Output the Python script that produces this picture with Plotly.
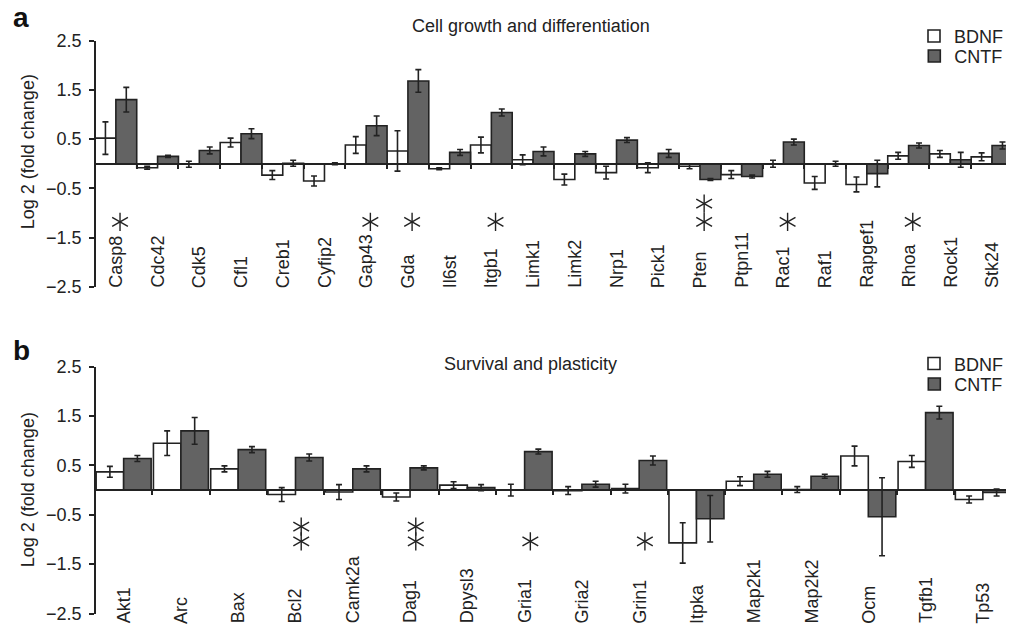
import plotly.graph_objects as go

# ---------------- data ----------------
genes_a = ["Casp8", "Cdc42", "Cdk5", "Cfl1", "Creb1", "Cyfip2", "Gap43", "Gda", "Il6st", "Itgb1",
           "Limk1", "Limk2", "Nrp1", "Pick1", "Pten", "Ptpn11", "Rac1", "Raf1", "Rapgef1", "Rhoa",
           "Rock1", "Stk24"]
bdnf_a = [0.52, -0.08, -0.01, 0.43, -0.23, -0.35, 0.38, 0.26, -0.10, 0.38,
          0.08, -0.32, -0.18, -0.08, -0.05, -0.22, 0.00, -0.39, -0.42, 0.16,
          0.20, 0.14]
bdnf_a_err = [0.33, 0.03, 0.06, 0.09, 0.09, 0.10, 0.17, 0.41, 0.02, 0.16,
              0.10, 0.11, 0.13, 0.10, 0.05, 0.08, 0.07, 0.13, 0.15, 0.07,
              0.07, 0.08]
cntf_a = [1.30, 0.15, 0.27, 0.61, 0.01, 0.00, 0.77, 1.68, 0.23, 1.04,
          0.25, 0.20, 0.48, 0.21, -0.32, -0.26, 0.44, 0.00, -0.20, 0.37,
          0.08, 0.37]
cntf_a_err = [0.25, 0.02, 0.07, 0.10, 0.06, 0.02, 0.20, 0.23, 0.06, 0.07,
              0.09, 0.05, 0.05, 0.08, 0.02, 0.03, 0.06, 0.05, 0.27, 0.05,
              0.15, 0.07]

genes_b = ["Akt1", "Arc", "Bax", "Bcl2", "Camk2a", "Dag1", "Dpysl3", "Gria1", "Gria2", "Grin1",
           "Itpka", "Map2k1", "Map2k2", "Ocm", "Tgfb1", "Tp53"]
bdnf_b = [0.37, 0.95, 0.43, -0.09, -0.04, -0.14, 0.10, 0.00, -0.01, 0.03,
          -1.07, 0.18, 0.01, 0.69, 0.58, -0.19]
bdnf_b_err = [0.11, 0.25, 0.06, 0.14, 0.15, 0.08, 0.07, 0.12, 0.08, 0.09,
              0.41, 0.09, 0.06, 0.20, 0.12, 0.07]
cntf_b = [0.64, 1.20, 0.82, 0.66, 0.43, 0.45, 0.05, 0.78, 0.12, 0.60,
          -0.58, 0.32, 0.28, -0.54, 1.57, -0.05]
cntf_b_err = [0.06, 0.27, 0.06, 0.07, 0.06, 0.04, 0.06, 0.05, 0.06, 0.09,
              0.47, 0.06, 0.04, 0.79, 0.13, 0.07]

# significance asterisks: gene -> number of stars
stars_a = {"Casp8": 1, "Gap43": 1, "Gda": 1, "Itgb1": 1, "Pten": 2, "Rac1": 1, "Rhoa": 1}
stars_b = {"Bcl2": 2, "Dag1": 2, "Gria1": 1, "Grin1": 1}
star_levels_a = [-1.18, -0.81]   # y of first / second asterisk
star_levels_b = [-1.04, -0.74]

y_ticks = [-2.5, -1.5, -0.5, 0.5, 1.5, 2.5]
y_ticktext = ["\u22122.5", "\u22121.5", "\u22120.5", "0.5", "1.5", "2.5"]

# ---------------- layout helpers ----------------
W, H = 1009, 629
ML = 95
PW = W - ML
FONT = "Liberation Sans, Arial, sans-serif"
FS = 18
INK = "#222222"
GREY = "#636363"


def py(px):
    return (H - px) / H


def px_x(px):
    return (px - ML) / PW


dom_a = [py(287), py(40.5)]
dom_b = [py(613.5), py(366.7)]
slot_a = 41.86
slot_b = 57.47

fig = go.Figure()


def add_panel(genes, bd, bde, cn, cne, xa, ya, w, leg_b, leg_c):
    xs = list(range(len(genes)))
    fig.add_trace(go.Bar(
        x=xs, y=bd, name="BDNF", offset=-w, width=w, xaxis=xa, yaxis=ya, legend=leg_b,
        marker=dict(color="white", line=dict(color=INK, width=1.6)),
        error_y=dict(type="data", array=bde, color=INK, thickness=1.6, width=3)))
    fig.add_trace(go.Bar(
        x=xs, y=cn, name="CNTF", offset=0, width=w, xaxis=xa, yaxis=ya, legend=leg_c,
        marker=dict(color=GREY, line=dict(color=INK, width=1.6)),
        error_y=dict(type="data", array=cne, color=INK, thickness=1.6, width=3)))


add_panel(genes_a, bdnf_a, bdnf_a_err, cntf_a, cntf_a_err, "x", "y", 0.5, "legend", "legend2")
add_panel(genes_b, bdnf_b, bdnf_b_err, cntf_b, cntf_b_err, "x2", "y2", 0.48, "legend3", "legend4")


def add_stars(genes, stars, levels, xa, ya):
    sx, sy = [], []
    for g, n in stars.items():
        i = genes.index(g)
        for k in range(n):
            sx.append(i + 0.1)
            sy.append(levels[k])
    for ang in (0, 60, 120):
        fig.add_trace(go.Scatter(
            x=sx, y=sy, mode="markers", xaxis=xa, yaxis=ya, showlegend=False,
            hoverinfo="skip",
            marker=dict(symbol="line-ns-open", size=13, angle=ang, color=INK,
                        line=dict(color=INK, width=1.4))))


add_stars(genes_a, stars_a, star_levels_a, "x", "y")
add_stars(genes_b, stars_b, star_levels_b, "x2", "y2")

annotations = []
for genes, xr, yr, ysh in ((genes_a, "x", "y", -3), (genes_b, "x2", "y2", -12)):
    for i, g in enumerate(genes):
        annotations.append(dict(
            x=i, y=-2.5, xref=xr, yref=yr, text=g, showarrow=False, textangle=-90,
            xanchor="center", yanchor="bottom", yshift=ysh,
            font=dict(family=FONT, size=FS, color=INK)))

txt = dict(family=FONT, size=FS, color=INK)
annotations += [
    dict(x=px_x(532), y=py(25.5), xref="paper", yref="paper", text="Cell growth and differentiation",
         showarrow=False, xanchor="center", yanchor="middle", font=txt),
    dict(x=px_x(532), y=py(363.8), xref="paper", yref="paper", text="Survival and plasticity",
         showarrow=False, xanchor="center", yanchor="middle", font=txt),
    dict(x=px_x(28), y=py(152), xref="paper", yref="paper", text="Log 2 (fold change)",
         showarrow=False, textangle=-90, xanchor="center", yanchor="middle", font=txt),
    dict(x=px_x(28), y=py(490), xref="paper", yref="paper", text="Log 2 (fold change)",
         showarrow=False, textangle=-90, xanchor="center", yanchor="middle", font=txt),
    dict(x=px_x(11), y=py(17.5), xref="paper", yref="paper", text="<b>a</b>",
         showarrow=False, xanchor="left", yanchor="middle", font=dict(family=FONT, size=28, color="#111")),
    dict(x=px_x(11), y=py(350), xref="paper", yref="paper", text="<b>b</b>",
         showarrow=False, xanchor="left", yanchor="middle", font=dict(family=FONT, size=28, color="#111")),
]


def yaxis(domain):
    return dict(domain=domain, anchor="free", position=0, range=[-2.5, 2.5], tickmode="array",
                tickvals=y_ticks, ticktext=y_ticktext, ticks="outside", ticklen=5, tickwidth=1.6,
                tickcolor=INK, showline=True, linecolor=INK, linewidth=1.6, showgrid=False,
                zeroline=False, tickfont=txt, ticklabelstandoff=4, automargin=False)


def xaxis(n, slot, dom):
    return dict(domain=[0, 1], anchor="free", position=(dom[0] + dom[1]) / 2,
                range=[-0.5, -0.5 + PW / slot], tickmode="array",
                tickvals=[i + 0.5 for i in range(n)], ticks="outside", ticklen=4, tickwidth=1.6,
                tickcolor=INK, showticklabels=False, showline=True, linecolor=INK, linewidth=1.6,
                showgrid=False, zeroline=False, layer="above traces", automargin=False)


def legend(cy):
    return dict(x=px_x(917), y=py(cy), xanchor="left", yanchor="middle",
                font=txt, bgcolor="rgba(0,0,0,0)", borderwidth=0, itemwidth=30,
                itemclick=False, itemdoubleclick=False)


fig.update_layout(
    template="none",
    width=W, height=H, margin=dict(l=ML, r=0, t=0, b=0, pad=0), autosize=False,
    paper_bgcolor="white", plot_bgcolor="white",
    barmode="overlay",
    xaxis=xaxis(len(genes_a), slot_a, dom_a),
    yaxis=yaxis(dom_a),
    xaxis2=xaxis(len(genes_b), slot_b, dom_b),
    yaxis2=yaxis(dom_b),
    legend=legend(36.3),
    legend2=legend(56.3),
    legend3=legend(363.8),
    legend4=legend(384.3),
    annotations=annotations,
    font=dict(family=FONT, color=INK),
)

fig.write_html("out.html")
